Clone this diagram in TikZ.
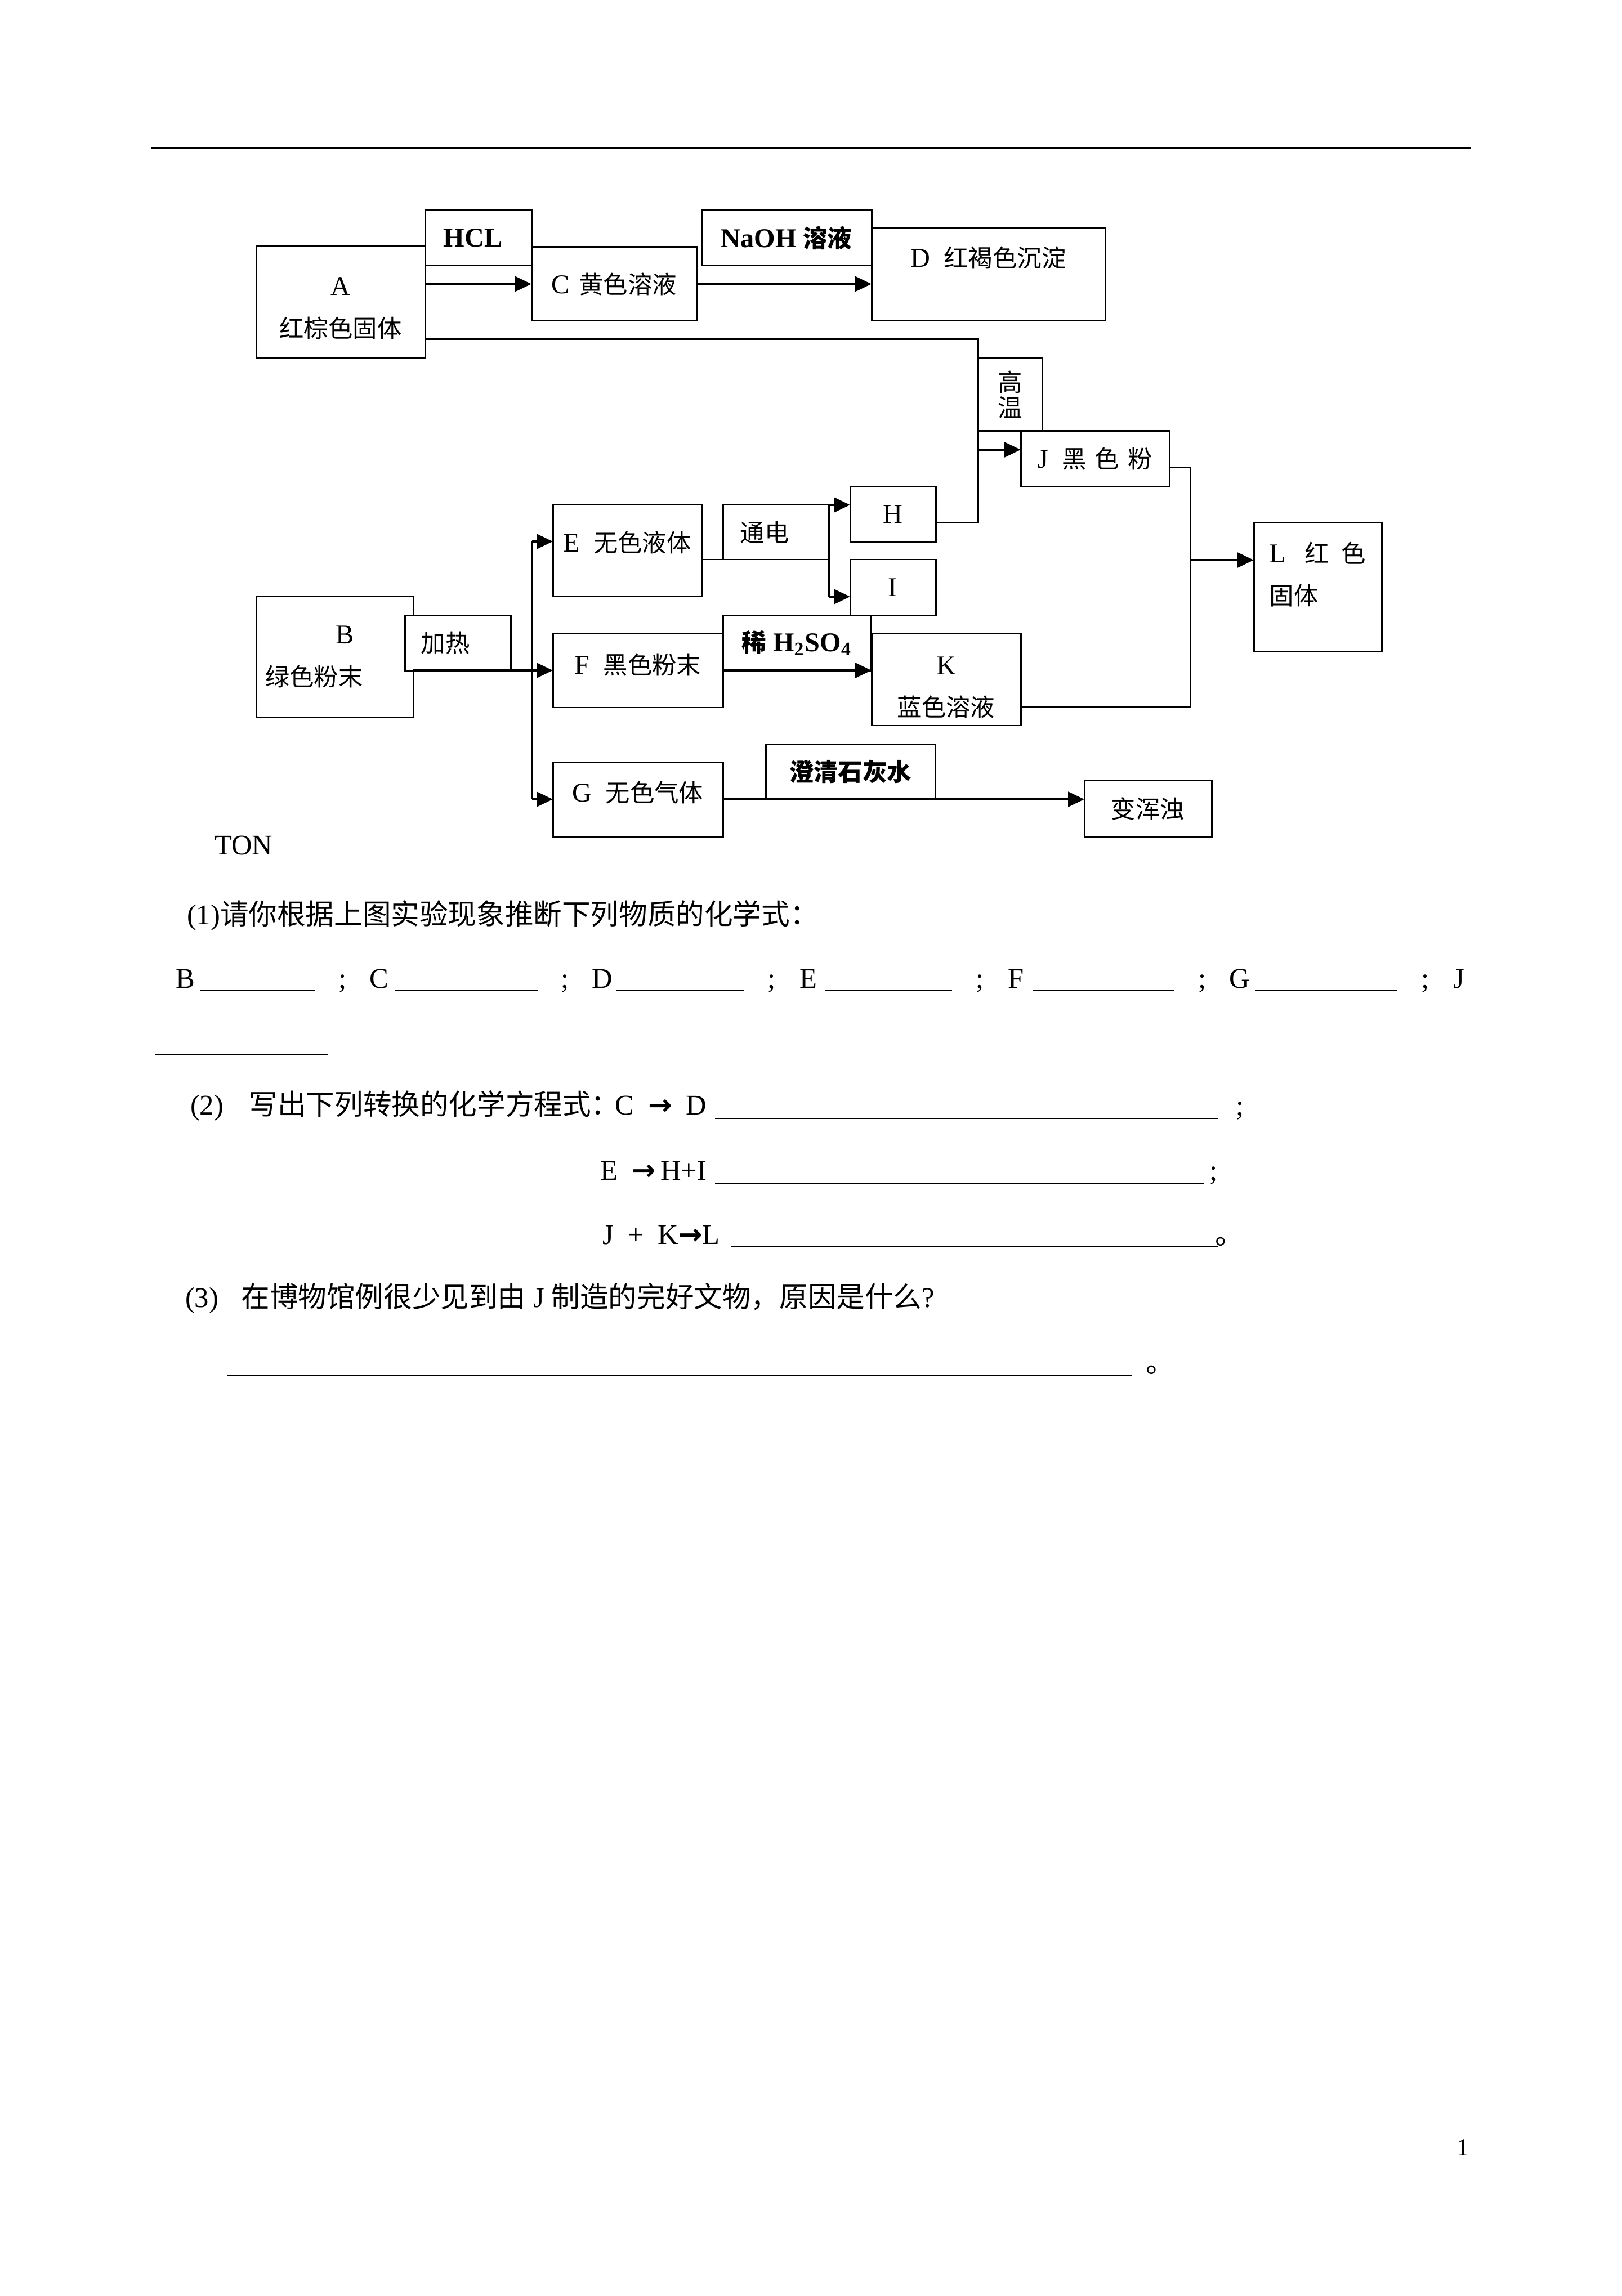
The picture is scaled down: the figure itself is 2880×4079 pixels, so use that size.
\documentclass[tikz,border=0pt]{standalone}
\usepackage{fontspec}
\setmainfont{Liberation Serif}
\newfontfamily\zhfont{Noto Sans CJK SC}
\newfontfamily\zhsmall{Noto Sans CJK SC}[Scale=0.9]
\newfontfamily\arrowfont{DejaVu Sans}
\newcommand\zhcur{\zhfont}
\newcommand\zh[1]{{\zhcur #1}}
\newcommand\yields{{\arrowfont\bfseries →}}
\newcommand\pxu{0.072917mm}
\newcommand\diagfont{\fontsize{10pt}{15.5pt}\selectfont\let\zhcur\zhsmall}
\newcommand\bodyfont{\fontsize{10.5pt}{13pt}\selectfont}
\newcommand\lowerdepth[1]{\rule[-#1]{0pt}{#1}}
\newcommand\upheight[1]{\rule{0pt}{#1}}
\usetikzlibrary{arrows.meta}
\tikzset{
  flowbox/.style={draw,line width=.62pt,fill=white,inner sep=0pt,outer sep=0pt,align=center,font=\diagfont},
  sz/.style 2 args={minimum width=#1*\pxu,minimum height=#2*\pxu},
  lefttxt/.style={align=left,text width=#1},
  boldbox/.style={font=\diagfont\bfseries},
  flowarr/.style={-{Triangle[length=2.1mm,width=1.9mm]},line width=1pt},
  flowline/.style={line width=.62pt},
  fillin/.style={line width=.45pt},
  bodytxt/.style={anchor=base west,inner sep=0pt,outer sep=0pt,font=\bodyfont}
}

\begin{document}
\begin{tikzpicture}[x=\pxu,y=-\pxu]
  \path[use as bounding box,fill=white] (0,0) rectangle (2880,4079);
  \draw[line width=.22mm] (269,264) -- (2612,264);

  % A -> C -> D, A -> J
  \node[flowbox,sz={300}{199}] (A) at (605,536.5) {\upheight{4mm}A\\\zh{红棕色固体}};
  \node[flowbox,boldbox,sz={189}{98},lefttxt=9mm] (hcl) at (849.5,423) {HCL};
  \node[flowbox,sz={293}{131}] (C) at (1090.5,504.5) {C\hspace{.35em}\zh{黄色溶液}};
  \node[flowbox,boldbox,sz={302}{98}] (naoh) at (1397,423) {NaOH \zh{溶液}};
  \node[flowbox,sz={415}{164}] (D) at (1755.5,488) {D\enspace\zh{红褐色沉淀}\lowerdepth{4.6mm}};
  \node[flowbox,sz={114}{130},font=\fontsize{10pt}{9.3pt}\selectfont\zhsmall] (gw) at (1794,701) {高\\温};
  \node[flowbox,sz={264}{98}] (J) at (1945,815) {J\enspace\zh{黑\hspace{.35em}色\hspace{.35em}粉}};

  % B -> E, F, G
  \node[flowbox,sz={279}{214},lefttxt=18mm] (B) at (594.5,1167) {\hspace*{2.6em}B\\\zh{绿色粉末}};
  \node[flowbox,sz={188}{99},lefttxt=9.5mm] (jr) at (813,1142.5) {\zh{加热}};
  \node[flowbox,sz={264}{164}] (E) at (1114,978) {E\enspace\zh{无色液体}\lowerdepth{2.3mm}};
  \node[flowbox,sz={188}{97},lefttxt=9.2mm] (td) at (1378,945.5) {\zh{通电}};
  \node[flowbox,sz={152}{99}] (H) at (1586,913.5) {H};
  \node[flowbox,sz={152}{99}] (I) at (1586,1043.5) {I};
  \node[flowbox,sz={302}{132}] (F) at (1133,1191) {F\enspace\zh{黑色粉末}\lowerdepth{1.75mm}};
  \node[flowbox,boldbox,sz={263}{99}] (xs) at (1415.5,1142.5) {\zh{稀} H\textsubscript{2}SO\textsubscript{4}};
  \node[flowbox,sz={265}{164}] (K) at (1680.5,1207) {\upheight{4.4mm}K\\\zh{蓝色溶液}};
  \node[flowbox,sz={227}{229},align=left] (L) at (2340.5,1043.5) {L\hspace{.7em}\zh{红\hspace{.5em}色}\\\zh{固体}\lowerdepth{3.6mm}};
  \node[flowbox,sz={302}{132}] (G) at (1133,1420) {G\enspace\zh{无色气体}\lowerdepth{2mm}};
  \node[flowbox,boldbox,sz={301}{98}] (cq) at (1510.5,1371) {\zh{澄清石灰水}};
  \node[flowbox,sz={226}{99}] (bh) at (2039,1436.5) {\zh{变浑浊}};

  % connectors
  \draw[flowarr] (A.east |- C.west) -- (C.west);
  \draw[flowarr] (C.east) -- (C.east -| D.west);
  \coordinate (hw) at (1737,603);
  \draw[flowline] (A.east |- hw) -- (hw) -- (hw |- 0,929) -- (H.east |- 0,929);
  \draw[flowarr] (hw |- 0,799) -- (J.west |- 0,799);

  \coordinate (tr) at (945,962);
  \draw[flowarr] (B.east |- F.west) -- (F.west);
  \draw[flowline] (tr) -- (tr |- G.west);
  \draw[flowarr] (tr) -- (E.west |- tr);
  \draw[flowarr] (tr |- G.west) -- (G.west);

  \draw[flowline] (E.east |- td.south) -- (td.south east);
  \draw[flowline] (td.north east) -- (td.east |- 0,1060);
  \draw[flowarr] (td.north east) -- (td.north east -| H.west);
  \draw[flowarr] (td.east |- 0,1060) -- (I.west |- 0,1060);

  \draw[flowarr] (F.east) -- (F.east -| K.west);
  \draw[flowarr] (G.east) -- (G.east -| bh.west);

  \coordinate (jk) at (2114,995);
  \draw[flowline] (J.east |- 0,831) -- (jk |- 0,831) -- (jk |- 0,1256) -- (K.east |- 0,1256);
  \draw[flowarr] (jk) -- (jk -| L.west);

  % questions
  \node[bodytxt] (ton) at (381,1518) {TON};
  \node[bodytxt] (q1) at (332,1642) {(1)\zh{请你根据上图实验现象推断下列物质的化学式：}};
  \foreach \ltr/\xl/\ua/\ub/\xs in {B/312/356/559/601,C/656/702/955/996,D/1051/1095/1322/1363,E/1420/1465/1691/1733,F/1790/1834/2086/2128,G/2183/2230/2482/2524}{
    \node[bodytxt] (ans\ltr) at (\xl,1755) {\ltr};
    \draw[fillin] (\ua,1760) -- (\ub,1760);
    \node[bodytxt] (semi\ltr) at (\xs,1755) {;};
  }
  \node[bodytxt] (ansJ) at (2581,1755) {J};
  \draw[fillin] (275,1873) -- (582,1873);

  \node[bodytxt] (q2) at (338,1980) {(2)\hspace{.9em}\zh{写出下列转换的化学方程式：}};
  \node[bodytxt] (eq1) at (1092,1980) {C\enspace\yields\enspace D};
  \draw[fillin] (1270,1987) -- (2164,1987);
  \node[bodytxt] (semi1) at (2195,1981) {;};
  \node[bodytxt] (eq2) at (1066,2096) {E\enspace\yields\,H+I};
  \draw[fillin] (1270,2102) -- (2138,2102);
  \node[bodytxt] (semi2) at (2148,2096) {;};
  \node[bodytxt] (eq3) at (1070,2210) {J\enspace+\enspace K\yields L};
  \draw[fillin] (1299,2214) -- (2164,2214);
  \node[bodytxt] (stop1) at (2158,2210) {\zh{。}};

  \node[bodytxt] (q3) at (329,2322) {(3)\hspace{.8em}\zh{在博物馆例很少见到由} J \zh{制造的完好文物，原因是什么}?};
  \draw[fillin] (403,2443) -- (2010,2443);
  \node[bodytxt] (stop2) at (2035,2438) {\zh{。}};

  \node[bodytxt,font=\fontsize{9pt}{11pt}\selectfont] (pgno) at (2587,3829) {1};
\end{tikzpicture}
\end{document}
